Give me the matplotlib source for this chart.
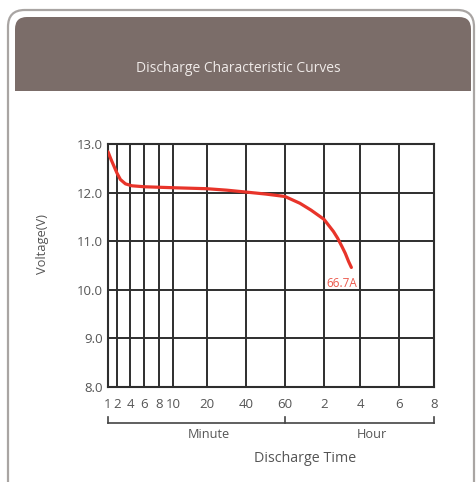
import numpy as np
import matplotlib
matplotlib.use("Agg")
import matplotlib.pyplot as plt
from matplotlib.patches import FancyBboxPatch, Rectangle
from matplotlib.transforms import blended_transform_factory

# ---- data ----
title = "Discharge Characteristic Curves"
tick_minutes = [1, 2, 4, 6, 8, 10, 20, 40, 60, 120, 240, 360, 480]
tick_labels = ["1", "2", "4", "6", "8", "10", "20", "40", "60", "2", "4", "6", "8"]
y_ticks = [8.0, 9.0, 10.0, 11.0, 12.0, 13.0]
y_labels = ["8.0", "9.0", "10.0", "11.0", "12.0", "13.0"]
time_min = [1, 1.3, 1.6, 2, 2.5, 3.25, 4.2, 6, 8, 10, 15, 20, 30, 40, 50, 60,
            83, 100, 120, 151, 165, 179, 190, 201, 210]
voltage = [12.84, 12.70, 12.57, 12.40, 12.27, 12.18, 12.14, 12.12, 12.11, 12.10, 12.09, 12.08,
           12.05, 12.01, 11.97, 11.92, 11.78, 11.64, 11.45, 11.20, 11.06, 10.89, 10.75, 10.58, 10.46]
series_label = "66.7A"

# ---- layout (grid positions, fraction of axis width) ----
grid_pos = np.array([0, 9, 22.5, 36.5, 51, 65.5, 99, 138.5, 177, 216, 252.5, 291, 326]) / 326.0
tm = np.array(tick_minutes, dtype=float)

def fwd(x):
    return np.interp(x, tm, grid_pos)

def inv(p):
    return np.interp(p, grid_pos, tm)

W, H = 477, 482
plt.rcParams["font.family"] = ["Open Sans", "DejaVu Sans"]
fig = plt.figure(figsize=(W / 100, H / 100), dpi=100)
fig.patch.set_facecolor("white")

def fx(px):
    return px / W

def fy(py):
    return 1 - py / H

# card border
card = FancyBboxPatch((fx(8), fy(500)), fx(474) - fx(8), fy(10) - fy(500),
                      boxstyle="round,pad=0,rounding_size=0.035", transform=fig.transFigure,
                      facecolor="none", edgecolor="#a9a5a3", lw=1.6, zorder=-2)
fig.patches.append(card)
# header band
hdr = FancyBboxPatch((fx(15), fy(91)), fx(471) - fx(15), fy(17) - fy(91),
                     boxstyle="round,pad=0,rounding_size=0.025", transform=fig.transFigure,
                     facecolor="#7b6d69", edgecolor="none", zorder=-1)
fig.patches.append(hdr)
fig.patches.append(Rectangle((fx(15), fy(91)), fx(471) - fx(15), fy(70) - fy(91),
                             transform=fig.transFigure, facecolor="#7b6d69", edgecolor="none", zorder=-1))
fig.text(fx(238), fy(68), title, ha="center", va="center", color="#efeae8", fontsize=10)

ax = fig.add_axes([fx(108), fy(387), fx(434) - fx(108), fy(144) - fy(387)])
ax.set_facecolor("none")
ax.set_xscale("function", functions=(fwd, inv))
ax.set_xlim(1, 480)
ax.set_ylim(8, 13)
ax.set_xticks(tick_minutes)
ax.set_xticklabels(tick_labels)
ax.set_yticks(y_ticks)
ax.set_yticklabels(y_labels)
ax.minorticks_off()
ax.grid(True, color="#2e2e2e", lw=1.4)
ax.set_axisbelow(True)
ax.tick_params(length=0, labelsize=9.5, colors="#555555")
ax.tick_params(axis="y", pad=3.5)
ax.tick_params(axis="x", pad=8)
for s in ax.spines.values():
    s.set_color("#2e2e2e")
    s.set_linewidth(1.5)

ax.plot(time_min, voltage, color="#e8342a", lw=2.3, solid_capstyle="round",
        solid_joinstyle="round", zorder=3)
ax.text(time_min[-1] - 30, 10.13, series_label, color="#ec5a4e", fontsize=8.5, ha="center", va="center")

fig.text(fx(43), fy(244), "Voltage(V)", rotation=90, ha="center", va="center",
         color="#555555", fontsize=9.3)

# bracket under x axis
tr = blended_transform_factory(ax.transData, fig.transFigure)
yb, yt = fy(423), fy(417)
ax.plot([1, 480], [yb, yb], color="#444444", lw=1.2, transform=tr, clip_on=False)
for xv in (1, 60, 480):
    ax.plot([xv, xv], [yb, yt], color="#444444", lw=1.2, transform=tr, clip_on=False)

fig.text(fx(209), fy(434), "Minute", ha="center", va="center", color="#555555", fontsize=9.2)
fig.text(fx(372), fy(434), "Hour", ha="center", va="center", color="#555555", fontsize=9.2)
fig.text(fx(305), fy(459), "Discharge Time", ha="center", va="center", color="#555555", fontsize=10.3)

fig.savefig("out.png", dpi=100)
